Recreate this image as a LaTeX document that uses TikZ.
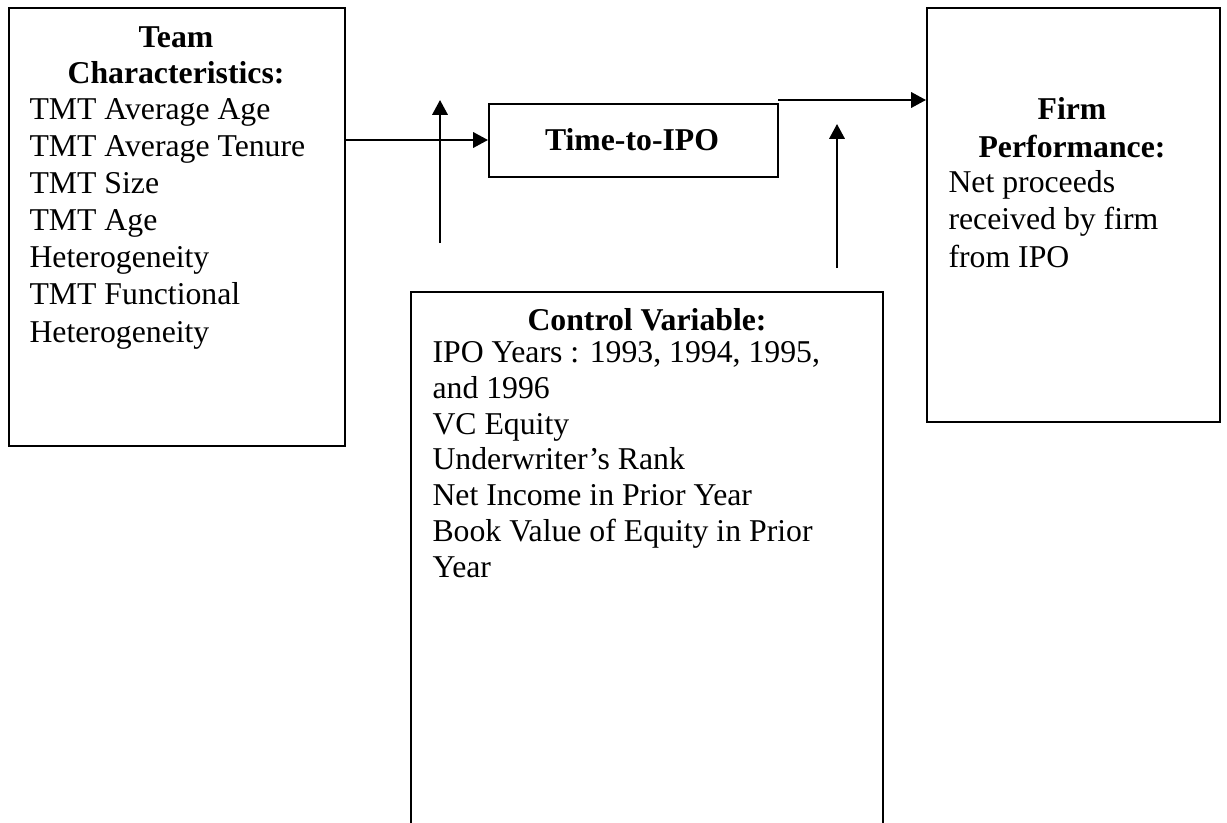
\documentclass[tikz,border=0pt]{standalone}
\usepackage{fontspec}
\setmainfont{Liberation Serif}
\usetikzlibrary{arrows.meta}
\tikzset{
  box/.style={draw=black, line width=0.8pt, inner sep=0pt},
  txt/.style={inner sep=0pt, align=left, font=\fontsize{12pt}{14pt}\selectfont},
  ttl/.style={inner sep=0pt, align=center, font=\fontsize{12pt}{13.6pt}\selectfont\bfseries},
  conn/.style={line width=0.8pt, -{Triangle[length=5.6pt,width=5.8pt]}},
}
\begin{document}
\begin{tikzpicture}[x=0.378pt, y=-0.378pt]
\useasboundingbox (0,0) rectangle (1227,822);
% boxes
\node[box, anchor=north west, minimum width=336*0.378pt, minimum height=438*0.378pt] (team) at (8,7) {};
\node[box, anchor=north west, minimum width=289*0.378pt, minimum height=73*0.378pt] (time) at (488,103) {};
\node[ttl] (timet) at (632,140) {Time-to-IPO};
\node[box, anchor=north west, minimum width=293*0.378pt, minimum height=414*0.378pt] (firm) at (926,7) {};
\draw[box] (411,830) -- (411,292) -- (883,292) -- (883,830);
% team text (anchors on the last line's baseline)
\node[ttl, anchor=base] (teamt) at (176,83) {Team\\Characteristics:};
\node[txt, anchor=base west] (teamb) at (29,342) {TMT Average Age\\TMT Average Tenure\\TMT Size\\TMT Age\\Heterogeneity\\TMT Functional\\Heterogeneity};
% control text
\node[ttl, anchor=base] (ctrlt) at (647,330) {Control Variable:};
\node[txt, anchor=base west, font=\fontsize{12pt}{13.5pt}\selectfont] (ctrlb) at (432,577) {IPO Years : 1993, 1994, 1995,\\and 1996\\VC Equity\\Underwriter's Rank\\Net Income in Prior Year\\Book Value of Equity in Prior\\Year};
% firm text
\node[ttl, anchor=base, font=\fontsize{12pt}{14pt}\selectfont\bfseries] (firmt) at (1072,157) {Firm\\Performance:};
\node[txt, anchor=base west] (firmb) at (948,267) {Net proceeds\\received by firm\\from IPO};
% connectors
\coordinate (teamR) at (team.east |- 0,140);
\coordinate (a1s) at (440,243);
\coordinate (a1e) at (440,100);
\coordinate (a2s) at (837,268);
\coordinate (a2e) at (837,124);
\coordinate (a3s) at (778,100);
\draw[conn] (teamR) -- (time.west |- teamR);
\draw[conn] (a1s) -- (a1e);
\draw[conn] (a2s) -- (a2e);
\draw[conn] (a3s) -- (firm.west |- a3s);
\end{tikzpicture}
\end{document}
